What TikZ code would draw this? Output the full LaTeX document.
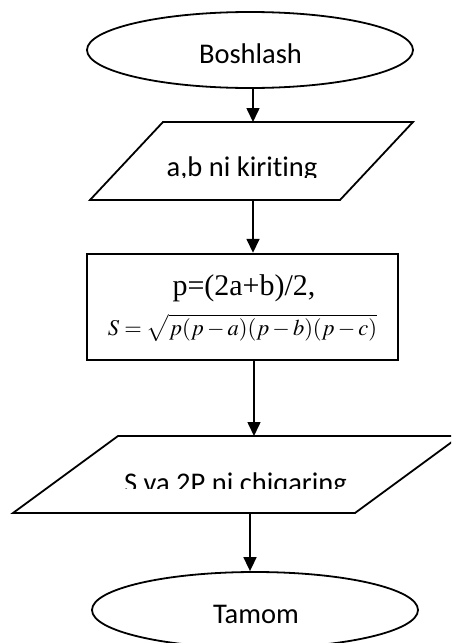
\documentclass[tikz,border=0pt]{standalone}
\usepackage{mathptmx}
\usepackage[no-math]{fontspec}
\setmainfont{Carlito}[Ligatures={NoCommon}]
\newfontfamily\timesfont{Liberation Serif}
\usetikzlibrary{shapes.geometric,arrows.meta}
\tikzset{
  shapeline/.style={draw,line width=1.8pt},
  flow/.style={line width=1.6pt,-{Triangle[width=13pt,length=14pt]}},
  lbl/.style={font=\fontsize{28.5}{34}\selectfont,anchor=base,inner sep=0pt},
  term/.style={shapeline,ellipse,minimum width=326pt,minimum height=76pt,inner sep=0pt}
}
\begin{document}
\begin{tikzpicture}[x=1pt,y=-1pt]
\useasboundingbox (0,0) rectangle (451,643);
\clip (0,0) rectangle (451,643);

% start
\node[term] (e1) at (250,50) {};
\node[lbl] (t1) at (250.5,63) {Boshlash};

% input parallelogram
\coordinate (p1t) at (253,122);
\coordinate (p1b) at (253,200);
\draw[line width=1.8pt,line join=miter] (163,122) -- (413,122) -- (340,200) -- (90,200) -- cycle;
\begin{scope}
  \clip (90,100) rectangle (420,177.5);
  \node[lbl] (t2) at (242,176.5) {a,b ni kiriting};
\end{scope}

% process box
\node[draw,line width=2.4pt,minimum width=311pt,minimum height=106pt,inner sep=0pt] (calc) at (242.5,307) {};
\node[anchor=base,inner sep=0pt,font=\timesfont\fontsize{30}{36}\selectfont] (f1) at (244,295) {p=(2a+b)/2,};
\node[anchor=base,inner sep=0pt,font=\fontsize{22.5}{28}\selectfont] (f2) at (242.5,335) {$S=\sqrt{p(p-a)(p-b)(p-c)}$};

% output parallelogram
\coordinate (p2t) at (254,436);
\coordinate (p2b) at (250,513);
\draw[line width=1.8pt,line join=miter] (118,436) -- (460,436) -- (355,513) -- (13,513) -- cycle;
\begin{scope}
  \clip (10,420) rectangle (451,488.5);
  \node[lbl] (t3) at (235.5,492) {S va 2P ni chiqaring};
\end{scope}

% end
\node[term] (e2) at (255,610) {};
\node[lbl] (t4) at (256,623) {Tamom};

% connectors
\draw[flow] (e1.south -| p1t) -- (p1t);
\draw[flow] (p1b) -- (p1b |- calc.north);
\draw[flow] (calc.south -| p2t) -- (p2t);
\draw[flow] (p2b) -- (p2b |- e2.north);
\end{tikzpicture}
\end{document}
